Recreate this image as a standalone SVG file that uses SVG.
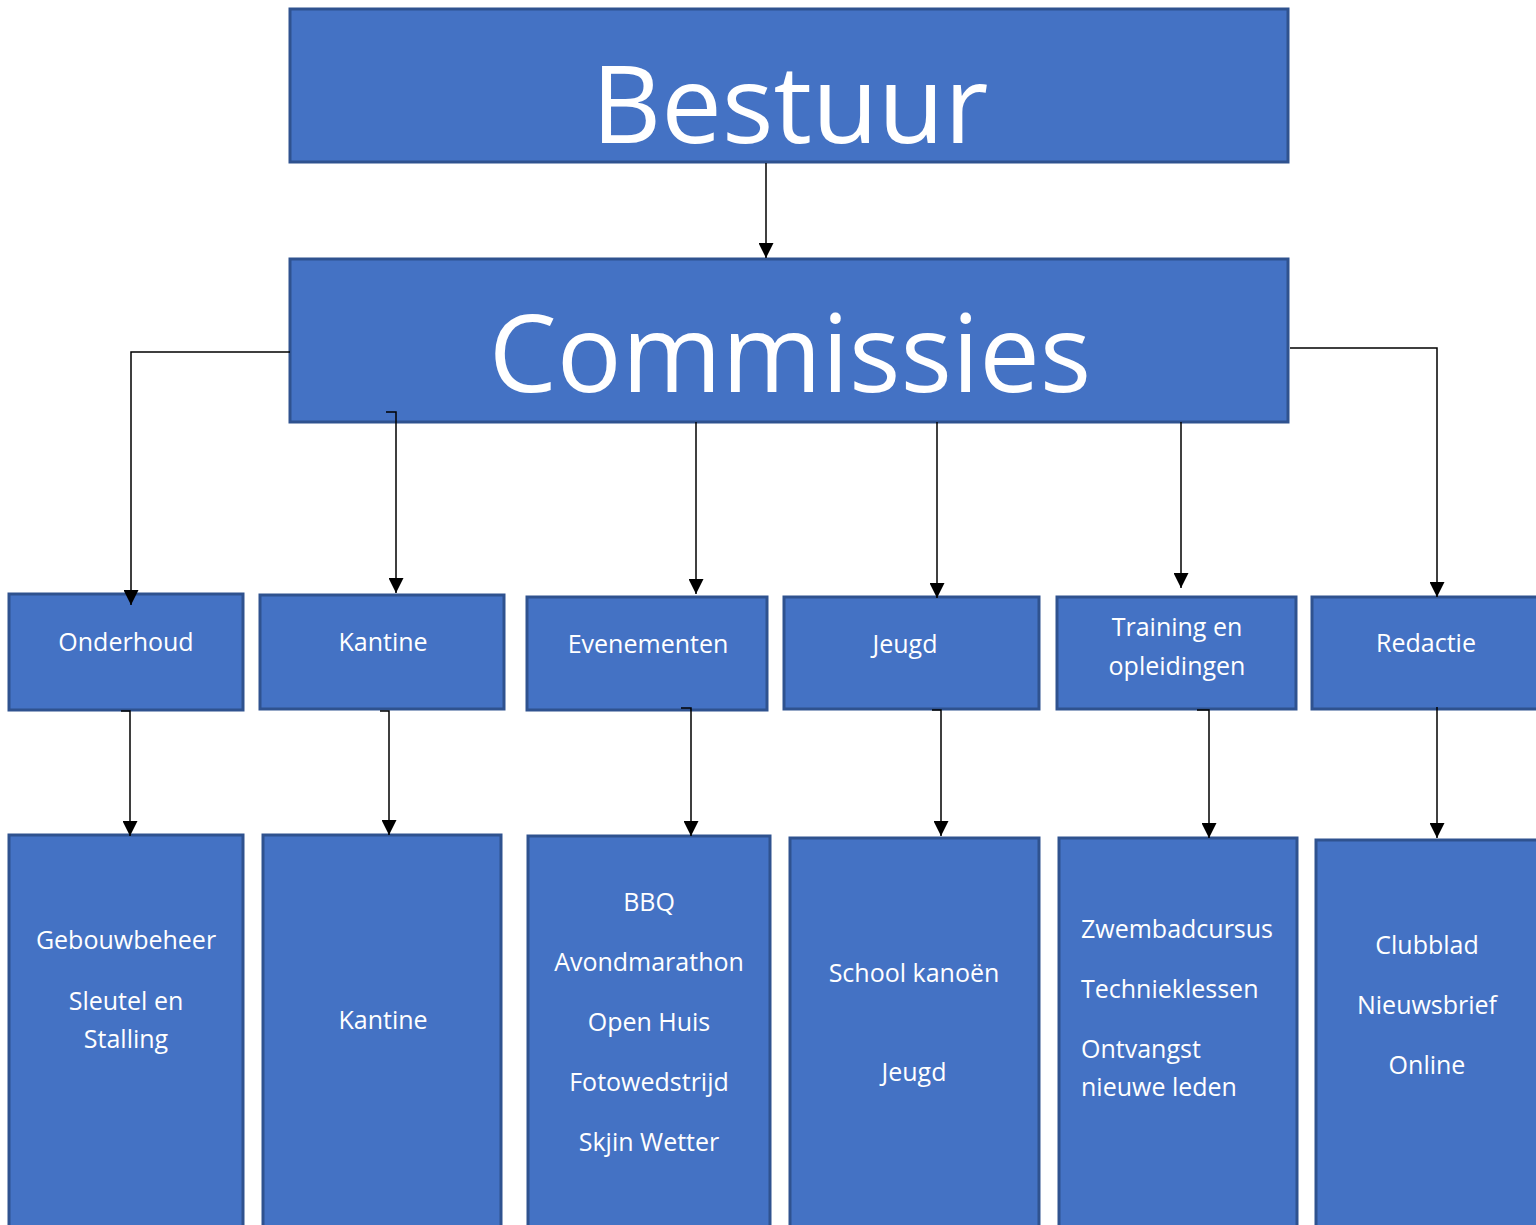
<svg xmlns="http://www.w3.org/2000/svg" width="1536" height="1225" viewBox="0 0 1536 1225">
<style>
.box{fill:#4472C4;stroke:#2F528F;stroke-width:3}
.t{font-family:"Open Sans","Noto Sans",sans-serif;fill:#FFFFFF;font-size:25px;text-anchor:middle}
.tl{text-anchor:start}
.big{font-size:108px}
.c{fill:none;stroke:#000;stroke-width:1.5}
</style>
<defs>
<marker id="ah" markerWidth="15" markerHeight="15" viewBox="0 0 15 15" refX="15" refY="7.5" orient="auto" markerUnits="userSpaceOnUse">
<path d="M0,0 L15,7.5 L0,15 Z" fill="#000"/>
</marker>
</defs>
<rect width="1536" height="1225" fill="#FFFFFF"/>
<g id="bestuur"><rect class="box" x="290" y="9" width="998" height="153"/><text class="t big" x="790" y="143">Bestuur</text></g>
<g id="commissies"><rect class="box" x="290" y="259" width="998" height="163"/><text class="t big" x="790" y="392">Commissies</text></g>
<g id="onderhoud"><rect class="box" x="9" y="594" width="234" height="116"/><text class="t" x="126" y="651">Onderhoud</text></g>
<g id="kantine"><rect class="box" x="260" y="595" width="244" height="114"/><text class="t" x="383" y="651">Kantine</text></g>
<g id="evenementen"><rect class="box" x="527" y="597" width="240" height="113"/><text class="t" x="648" y="653">Evenementen</text></g>
<g id="jeugd"><rect class="box" x="784" y="597" width="255" height="112"/><text class="t" x="905" y="653">Jeugd</text></g>
<g id="training"><rect class="box" x="1057" y="597" width="239" height="112"/><text class="t" x="1177" y="636">Training en</text><text class="t" x="1177" y="675">opleidingen</text></g>
<g id="redactie"><rect class="box" x="1312" y="597" width="240" height="112"/><text class="t" x="1426" y="652">Redactie</text></g>
<g id="onderhoud-taken"><rect class="box" x="9" y="835" width="234" height="410"/><text class="t" x="126" y="949">Gebouwbeheer</text><text class="t" x="126" y="1010">Sleutel en</text><text class="t" x="126" y="1048">Stalling</text></g>
<g id="kantine-taken"><rect class="box" x="263" y="835" width="238" height="410"/><text class="t" x="383" y="1029">Kantine</text></g>
<g id="evenementen-taken"><rect class="box" x="528" y="836" width="242" height="410"/><text class="t" x="649" y="911">BBQ</text><text class="t" x="649" y="971">Avondmarathon</text><text class="t" x="649" y="1031">Open Huis</text><text class="t" x="649" y="1091">Fotowedstrijd</text><text class="t" x="649" y="1151">Skjin Wetter</text></g>
<g id="jeugd-taken"><rect class="box" x="790" y="838" width="249" height="410"/><text class="t" x="914" y="982">School kanoën</text><text class="t" x="914" y="1081">Jeugd</text></g>
<g id="training-taken"><rect class="box" x="1059" y="838" width="238" height="410"/><text class="t tl" x="1081" y="938">Zwembadcursus</text><text class="t tl" x="1081" y="998">Technieklessen</text><text class="t tl" x="1081" y="1058">Ontvangst</text><text class="t tl" x="1081" y="1096">nieuwe leden</text></g>
<g id="redactie-taken"><rect class="box" x="1316" y="840" width="240" height="410"/><text class="t" x="1427" y="954">Clubblad</text><text class="t" x="1427" y="1014">Nieuwsbrief</text><text class="t" x="1427" y="1074">Online</text></g>
<g id="connectors">
<path class="c" d="M766,163 V258" marker-end="url(#ah)"/>
<path class="c" d="M290,352 H131 V605" marker-end="url(#ah)"/>
<path class="c" d="M386,412 H396 V593" marker-end="url(#ah)"/>
<path class="c" d="M696,422 V594" marker-end="url(#ah)"/>
<path class="c" d="M937,422 V598" marker-end="url(#ah)"/>
<path class="c" d="M1181,422 V588" marker-end="url(#ah)"/>
<path class="c" d="M1290,348 H1437 V597" marker-end="url(#ah)"/>
<path class="c" d="M121,711 H130 V836" marker-end="url(#ah)"/>
<path class="c" d="M380,711 H389 V835" marker-end="url(#ah)"/>
<path class="c" d="M681,708 H691 V836" marker-end="url(#ah)"/>
<path class="c" d="M932,710 H941 V836" marker-end="url(#ah)"/>
<path class="c" d="M1197,710 H1209 V838" marker-end="url(#ah)"/>
<path class="c" d="M1437,707 V838" marker-end="url(#ah)"/>
</g>
</svg>
